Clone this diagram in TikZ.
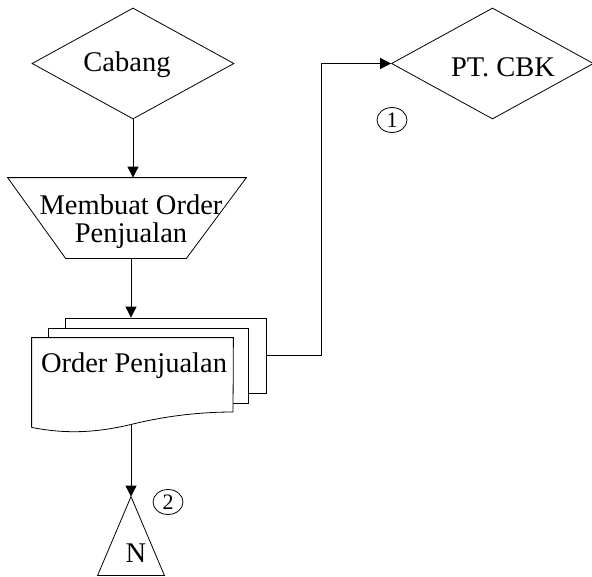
\documentclass[tikz,border=0pt]{standalone}
\usepackage{fontspec}
\setmainfont{Liberation Serif}
\usetikzlibrary{shapes.geometric,arrows.meta,calc}
\begin{document}
\begin{tikzpicture}[x=1pt,y=-1pt,
  line width=0.8pt,
  every node/.style={font=\fontsize{28.5}{31}\selectfont},
  flow/.style={-{Triangle[length=11pt,width=11pt]}},
  terminal/.style={draw,diamond,inner sep=0pt,minimum width=202pt,minimum height=111pt},
  frame/.style={inner sep=0pt},
  sheet/.style={draw,fill=white,rectangle,inner sep=0pt,minimum width=201pt,minimum height=75pt},
  connector/.style={draw,ellipse,inner sep=0pt,minimum width=30pt,minimum height=25pt,font=\fontsize{22}{22}\selectfont}
]
\useasboundingbox (0,0) rectangle (592,576);

% sources / destinations
\node[terminal] (cabang) at (133,63.5) {};
\node at (127,65) {Cabang};
\node[terminal] (cbk) at (492.5,63.5) {};
\node at (503,67) {PT. CBK};

% manual operation (trapezium)
\node[frame,minimum width=238pt,minimum height=80pt] (proc) at (127,218) {};
\draw (proc.north west) -- (proc.north east) -- ($(proc.south east)+(-60,0)$)
  -- ($(proc.south west)+(58,0)$) -- cycle;
\node[align=center] at (131,222) {Membuat Order\\[-3pt]Penjualan};

% stack of documents
\node[sheet] (back) at (165.5,355.5) {};
\node[sheet,minimum width=200pt] (mid) at (148,365.5) {};
\node[frame,minimum width=201pt,minimum height=89pt] (doc) at (132.5,382.5) {};
\draw[fill=white] (doc.south west) -- (doc.north west) -- (doc.north east) -- (233,412)
  .. controls (200,412) and (165,416) .. (131,424.5)
  .. controls (95,433) and (65,434) .. (doc.south west);
\coordinate (docout) at (131,424.5);
\node at (134,366) {Order Penjualan};

% off-page connector (triangle)
\node[frame,minimum width=66pt,minimum height=78pt] (offpage) at (131,536) {};
\draw (offpage.north) -- (offpage.south east) -- (offpage.south west) -- cycle;
\node at (136,553) {N};

% numbered connectors
\node[connector] (c1) at (392,120) {1};
\node[connector] (c2) at (168,502) {2};

% flow lines
\draw[flow] (cabang.south) -- (proc.north -| cabang.south);
\draw[flow] (proc.south -| docout) -- (docout |- back.north);
\draw (back.east) -- ++(55,0) coordinate (bend);
\draw[flow] (bend) |- (cbk.west);
\draw[flow] (docout) -- (offpage.north);
\end{tikzpicture}
\end{document}
